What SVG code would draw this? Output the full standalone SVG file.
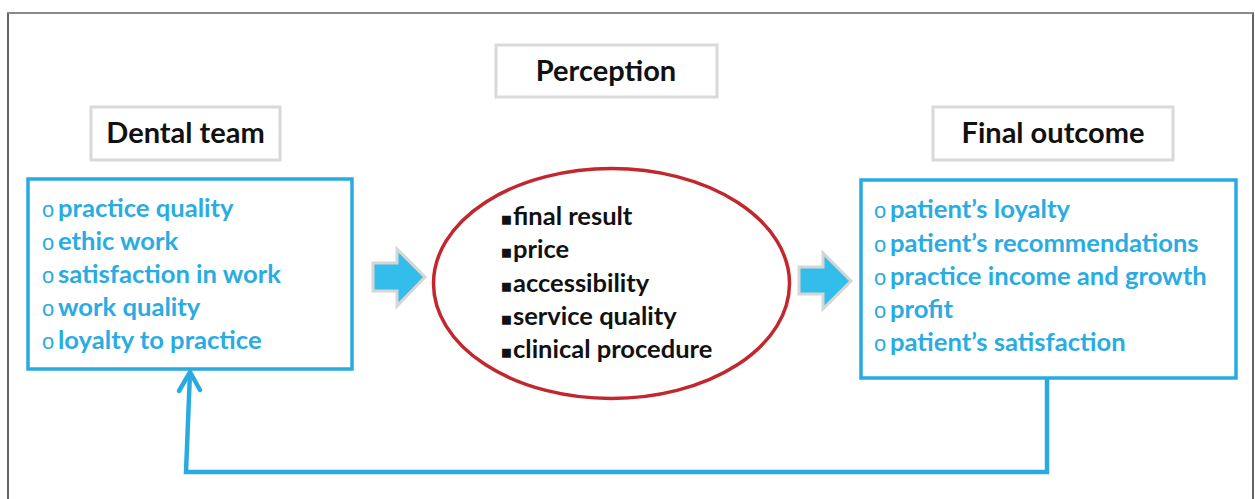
<svg xmlns="http://www.w3.org/2000/svg" width="1255" height="499" viewBox="0 0 1255 499">
<defs>
<style>
.frame{fill:none;stroke:#333;stroke-width:1.5}
.head{fill:#fff;stroke:#d9d9d9;stroke-width:3}
.htxt{font-family:Lato,"Liberation Sans",sans-serif;font-weight:bold;font-size:29px;fill:#111;text-anchor:middle}
.bbox{fill:#fff;stroke:#29abe2;stroke-width:3.5}
.btxt{font-family:Lato,"Liberation Sans",sans-serif;font-weight:bold;font-size:25.6px;fill:#2aace2}
.ktxt{font-family:Lato,"Liberation Sans",sans-serif;font-weight:bold;font-size:25.5px;fill:#111}
.ob{font-family:"Liberation Sans",sans-serif;font-weight:normal;font-size:22px;fill:#2aace2}
.sq{font-family:"DejaVu Sans",sans-serif;font-weight:normal;font-size:11.5px;fill:#111}
.blk{fill:#33bdeb;stroke:#d6d6d6;stroke-width:3;stroke-linejoin:miter}
.fb{fill:none;stroke:#29abe2;stroke-width:4.5;stroke-linejoin:miter}
</style>
</defs>
<rect width="1255" height="499" fill="#fff"/>
<path class="frame" d="M8,505 V13 H1253 V505"/>
<path d="M8,13 H1253" stroke="#999" stroke-width="1.5"/>

<g id="perception">
<rect class="head" x="496" y="45" width="221" height="52"/>
<text class="htxt" x="606" y="81">Perception</text>
</g>

<g id="dental-team">
<rect class="head" x="91" y="107" width="189" height="53"/>
<text class="htxt" x="185.5" y="143">Dental team</text>
</g>

<g id="final-outcome">
<rect class="head" x="933" y="107" width="240" height="53"/>
<text class="htxt" x="1053" y="143">Final outcome</text>
</g>

<g id="team-list">
<rect class="bbox" x="28" y="179" width="324" height="190"/>
<text class="btxt"><tspan class="ob" x="42" y="217">o</tspan><tspan x="58" y="217">practice quality</tspan></text>
<text class="btxt"><tspan class="ob" x="42" y="250">o</tspan><tspan x="58" y="250">ethic work</tspan></text>
<text class="btxt"><tspan class="ob" x="42" y="283">o</tspan><tspan x="58" y="283">satisfaction in work</tspan></text>
<text class="btxt"><tspan class="ob" x="42" y="316">o</tspan><tspan x="58" y="316">work quality</tspan></text>
<text class="btxt"><tspan class="ob" x="42" y="349">o</tspan><tspan x="58" y="349">loyalty to practice</tspan></text>
</g>

<g id="perception-factors">
<ellipse cx="611.5" cy="283.5" rx="178" ry="115" fill="#fff" stroke="#c1272d" stroke-width="3.5"/>
<text class="ktxt"><tspan class="sq" x="501" y="222.5">■</tspan><tspan x="513" y="225">final result</tspan></text>
<text class="ktxt"><tspan class="sq" x="501" y="255.5">■</tspan><tspan x="513" y="258">price</tspan></text>
<text class="ktxt"><tspan class="sq" x="501" y="289.5">■</tspan><tspan x="513" y="292">accessibility</tspan></text>
<text class="ktxt"><tspan class="sq" x="501" y="322.5">■</tspan><tspan x="513" y="325">service quality</tspan></text>
<text class="ktxt"><tspan class="sq" x="501" y="355.5">■</tspan><tspan x="513" y="358">clinical procedure</tspan></text>
</g>

<g id="outcome-list">
<rect class="bbox" x="861" y="180" width="375" height="198"/>
<text class="btxt"><tspan class="ob" x="874" y="218">o</tspan><tspan x="890" y="218">patient’s loyalty</tspan></text>
<text class="btxt"><tspan class="ob" x="874" y="252">o</tspan><tspan x="890" y="252">patient’s recommendations</tspan></text>
<text class="btxt"><tspan class="ob" x="874" y="285">o</tspan><tspan x="890" y="285">practice income and growth</tspan></text>
<text class="btxt"><tspan class="ob" x="874" y="318">o</tspan><tspan x="890" y="318">profit</tspan></text>
<text class="btxt"><tspan class="ob" x="874" y="351">o</tspan><tspan x="890" y="351">patient’s satisfaction</tspan></text>
</g>

<g id="connectors">
<path class="blk" d="M373,263 H397 V249 L425,277 L397,306 V291 H373 Z"/>
<path class="blk" d="M799,267 H823 V253 L851,281 L823,309 V294 H799 Z"/>
<path class="fb" d="M1047,378 V472 H186 L190,372"/>
<path class="fb" d="M179,391 L190,372 L200,390" stroke-linecap="round"/>
</g>
</svg>
